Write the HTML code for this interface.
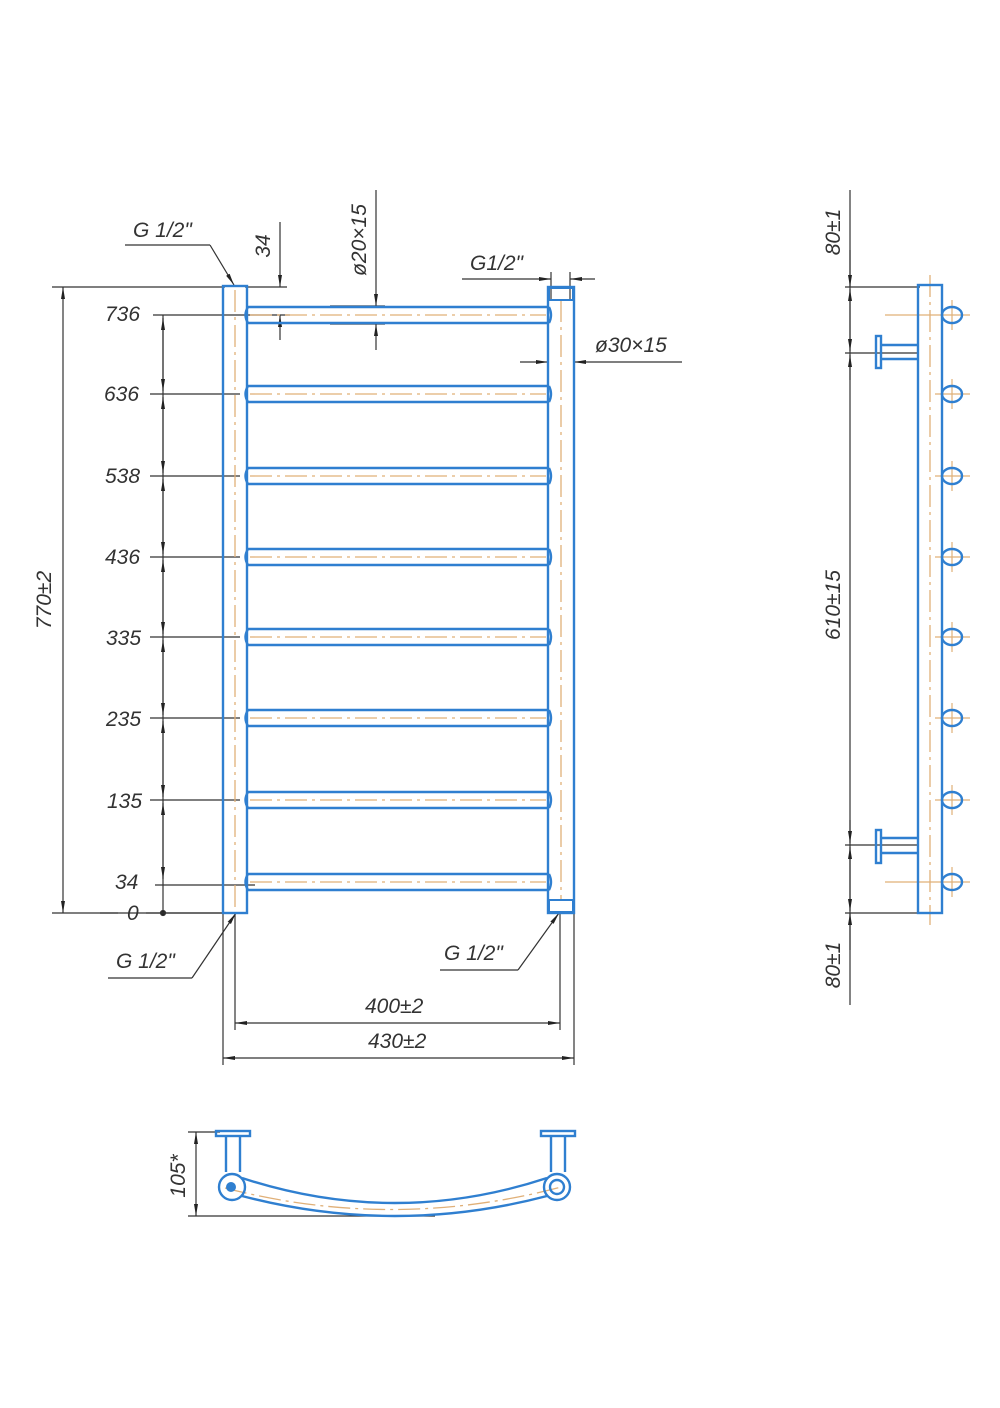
<!DOCTYPE html>
<html><head><meta charset="utf-8"><style>
html,body{margin:0;padding:0;background:#fff;}
svg{display:block;}
text{font-family:"Liberation Sans",sans-serif;font-style:italic;fill:#333;font-size:21px;}
</style></head><body>
<svg width="1000" height="1408" viewBox="0 0 1000 1408" xmlns="http://www.w3.org/2000/svg">
<defs>
<marker id="a" viewBox="0 0 12 6" refX="12" refY="3" markerWidth="12" markerHeight="6" orient="auto-start-reverse" markerUnits="userSpaceOnUse"><path d="M0,1 L12,3 L0,5z" fill="#222"/></marker>
</defs>
<g stroke="#333" stroke-width="1.2" fill="none">
<!-- left 770 dim -->
<line x1="52" y1="287" x2="225" y2="287"/>
<line x1="52" y1="913" x2="225" y2="913"/>
<line x1="63" y1="287" x2="63" y2="913" marker-start="url(#a)" marker-end="url(#a)"/>
<!-- chain -->
<line x1="163" y1="315" x2="163" y2="913"/>
<g marker-end="url(#a)">
<line x1="163" y1="355" x2="163" y2="318"/><line x1="163" y1="355" x2="163" y2="391"/>
<line x1="163" y1="435" x2="163" y2="397"/><line x1="163" y1="435" x2="163" y2="473"/>
<line x1="163" y1="516" x2="163" y2="479"/><line x1="163" y1="516" x2="163" y2="554"/>
<line x1="163" y1="597" x2="163" y2="560"/><line x1="163" y1="597" x2="163" y2="634"/>
<line x1="163" y1="677" x2="163" y2="640"/><line x1="163" y1="677" x2="163" y2="715"/>
<line x1="163" y1="759" x2="163" y2="721"/><line x1="163" y1="759" x2="163" y2="797"/>
<line x1="163" y1="840" x2="163" y2="803"/><line x1="163" y1="840" x2="163" y2="879"/>
</g>
<circle cx="163" cy="913" r="2.5" fill="#222"/>
<line x1="153" y1="315" x2="290" y2="315"/>
<line x1="150" y1="394" x2="240" y2="394"/>
<line x1="150" y1="476" x2="240" y2="476"/>
<line x1="150" y1="557" x2="240" y2="557"/>
<line x1="150" y1="637" x2="240" y2="637"/>
<line x1="150" y1="718" x2="240" y2="718"/>
<line x1="150" y1="800" x2="240" y2="800"/>
<line x1="155" y1="885" x2="255" y2="885"/>
<line x1="100" y1="913" x2="118" y2="913"/>
<line x1="146" y1="913" x2="225" y2="913"/>
<!-- 34 top dim -->
<line x1="280" y1="222" x2="280" y2="287" marker-end="url(#a)"/>
<line x1="280" y1="340" x2="280" y2="315" marker-end="url(#a)"/>
<line x1="245" y1="287" x2="287" y2="287"/>
<!-- d20 dim -->
<line x1="376" y1="190" x2="376" y2="306" marker-end="url(#a)"/>
<line x1="376" y1="350" x2="376" y2="324" marker-end="url(#a)"/>
<line x1="330" y1="306" x2="385" y2="306"/>
<line x1="330" y1="324" x2="385" y2="324"/>
<!-- G1/2 top left leader -->
<line x1="125" y1="245" x2="210" y2="245"/>
<line x1="210" y1="245" x2="234" y2="285" marker-end="url(#a)"/>
<!-- G1/2 top right -->
<line x1="462" y1="279" x2="551" y2="279" marker-end="url(#a)"/>
<line x1="595" y1="279" x2="570" y2="279" marker-end="url(#a)"/>
<line x1="551" y1="272" x2="551" y2="300"/>
<line x1="570" y1="272" x2="570" y2="300"/>
<!-- d30 -->
<line x1="520" y1="362" x2="548" y2="362" marker-end="url(#a)"/>
<line x1="682" y1="362" x2="574" y2="362" marker-end="url(#a)"/>
<!-- bottom leaders -->
<line x1="108" y1="978" x2="192" y2="978"/>
<line x1="192" y1="978" x2="236" y2="913" marker-end="url(#a)"/>
<line x1="440" y1="970" x2="518" y2="970"/>
<line x1="518" y1="970" x2="559" y2="913" marker-end="url(#a)"/>
<!-- width dims -->
<line x1="235" y1="913" x2="235" y2="1030"/>
<line x1="560" y1="913" x2="560" y2="1030"/>
<line x1="223" y1="913" x2="223" y2="1065"/>
<line x1="574" y1="913" x2="574" y2="1065"/>
<line x1="235" y1="1023" x2="560" y2="1023" marker-start="url(#a)" marker-end="url(#a)"/>
<line x1="223" y1="1058" x2="574" y2="1058" marker-start="url(#a)" marker-end="url(#a)"/>
<!-- side view dims -->
<line x1="850" y1="190" x2="850" y2="1005"/>
<line x1="845" y1="287" x2="920" y2="287"/>
<line x1="845" y1="353" x2="918" y2="353"/>
<line x1="845" y1="845" x2="918" y2="845"/>
<line x1="845" y1="913" x2="920" y2="913"/>
<g marker-end="url(#a)">
<line x1="850" y1="250" x2="850" y2="287"/><line x1="850" y1="320" x2="850" y2="289"/><line x1="850" y1="320" x2="850" y2="351"/>
<line x1="850" y1="380" x2="850" y2="355"/><line x1="850" y1="820" x2="850" y2="843"/>
<line x1="850" y1="880" x2="850" y2="847"/><line x1="850" y1="880" x2="850" y2="911"/><line x1="850" y1="950" x2="850" y2="913"/>
</g>
<!-- bottom view dim -->
<line x1="188" y1="1132" x2="220" y2="1132"/>
<line x1="188" y1="1216" x2="435" y2="1216"/>
<line x1="196" y1="1132" x2="196" y2="1216" marker-start="url(#a)" marker-end="url(#a)"/>
</g>

<!-- centerlines -->
<g stroke="#e0b078" stroke-width="1.3" fill="none" stroke-dasharray="22 5 3 5">
<line x1="235" y1="290" x2="235" y2="910"/>
<line x1="561" y1="300" x2="561" y2="900"/>
<line x1="250" y1="315" x2="546" y2="315"/>
<line x1="250" y1="394" x2="546" y2="394"/>
<line x1="250" y1="476" x2="546" y2="476"/>
<line x1="250" y1="557" x2="546" y2="557"/>
<line x1="250" y1="637" x2="546" y2="637"/>
<line x1="250" y1="718" x2="546" y2="718"/>
<line x1="250" y1="800" x2="546" y2="800"/>
<line x1="250" y1="882" x2="546" y2="882"/>
<line x1="930" y1="275" x2="930" y2="925"/>
<path d="M225,1188 Q395,1232 565,1186"/>
</g>
<g stroke="#e0b078" stroke-width="1.2">
<line x1="935" y1="315" x2="970" y2="315"/><line x1="952" y1="300" x2="952" y2="330"/>
<line x1="935" y1="394" x2="970" y2="394"/><line x1="952" y1="379" x2="952" y2="409"/>
<line x1="935" y1="476" x2="970" y2="476"/><line x1="952" y1="461" x2="952" y2="491"/>
<line x1="935" y1="557" x2="970" y2="557"/><line x1="952" y1="542" x2="952" y2="572"/>
<line x1="935" y1="637" x2="970" y2="637"/><line x1="952" y1="622" x2="952" y2="652"/>
<line x1="935" y1="718" x2="970" y2="718"/><line x1="952" y1="703" x2="952" y2="733"/>
<line x1="935" y1="800" x2="970" y2="800"/><line x1="952" y1="785" x2="952" y2="815"/>
<line x1="885" y1="882" x2="970" y2="882"/><line x1="952" y1="867" x2="952" y2="897"/>
<line x1="885" y1="315" x2="935" y2="315"/>
</g>

<!-- pipes blue -->
<g stroke="#2f7fd0" stroke-width="2.4" fill="none">
<rect x="223" y="286" width="24" height="627"/>
<rect x="548" y="287" width="26" height="626"/>
<rect x="549" y="288" width="24" height="12" stroke-width="2"/>
<rect x="549" y="900" width="24" height="12" stroke-width="2"/>
<g id="r">
<path d="M248,307 L549,307 M248,323 L549,323 M248,307 q-5,8 0,16 M549,307 q4,8 0,16"/>
</g>
<use href="#r" y="79"/><use href="#r" y="161"/><use href="#r" y="242"/><use href="#r" y="322"/><use href="#r" y="403"/><use href="#r" y="485"/><use href="#r" y="567"/>
<!-- side -->
<rect x="918" y="285" width="24" height="628"/>
<ellipse cx="952" cy="315" rx="10" ry="8"/><ellipse cx="952" cy="394" rx="10" ry="8"/>
<ellipse cx="952" cy="476" rx="10" ry="8"/><ellipse cx="952" cy="557" rx="10" ry="8"/>
<ellipse cx="952" cy="637" rx="10" ry="8"/><ellipse cx="952" cy="718" rx="10" ry="8"/>
<ellipse cx="952" cy="800" rx="10" ry="8"/><ellipse cx="952" cy="882" rx="10" ry="8"/>
<path d="M881,345 L918,345 M881,359 L918,359"/>
<rect x="876" y="336" width="5" height="32"/>
<path d="M881,838 L918,838 M881,853 L918,853"/>
<rect x="876" y="830" width="5" height="33"/>
<!-- bottom view -->
<rect x="216" y="1131" width="34" height="5"/>
<path d="M226,1136 L226,1172 M240,1136 L240,1172"/>
<rect x="541" y="1131" width="34" height="5"/>
<path d="M551,1136 L551,1172 M565,1136 L565,1172"/>
<circle cx="232" cy="1187" r="13"/>
<circle cx="557" cy="1187" r="13"/>
<circle cx="557" cy="1187" r="7"/>
<path d="M242,1178 Q395,1228 547,1178"/>
<path d="M242,1196 Q395,1236 547,1196"/>
</g>
<circle cx="231" cy="1187" r="5" fill="#2f7fd0"/>

<!-- texts -->
<text x="105" y="321">736</text>
<text x="104" y="401">636</text>
<text x="105" y="483">538</text>
<text x="105" y="564">436</text>
<text x="106" y="645">335</text>
<text x="106" y="726">235</text>
<text x="107" y="808">135</text>
<text x="115" y="889">34</text>
<text x="127" y="920">0</text>
<text x="133" y="237">G 1/2"</text>
<text x="470" y="270">G1/2"</text>
<text x="595" y="352">ø30×15</text>
<text x="116" y="968">G 1/2"</text>
<text x="444" y="960">G 1/2"</text>
<text x="365" y="1013">400±2</text>
<text x="368" y="1048">430±2</text>
<text transform="translate(51,600) rotate(-90)" text-anchor="middle">770±2</text>
<text transform="translate(270,246) rotate(-90)" text-anchor="middle">34</text>
<text transform="translate(366,240) rotate(-90)" text-anchor="middle">ø20×15</text>
<text transform="translate(840,232) rotate(-90)" text-anchor="middle">80±1</text>
<text transform="translate(840,605) rotate(-90)" text-anchor="middle">610±15</text>
<text transform="translate(840,965) rotate(-90)" text-anchor="middle">80±1</text>
<text transform="translate(185,1176) rotate(-90)" text-anchor="middle">105*</text>
</svg>
</body></html>
